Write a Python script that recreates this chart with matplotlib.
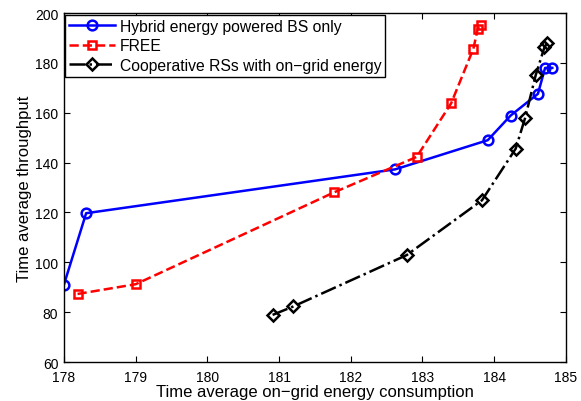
import matplotlib
matplotlib.use("Agg")
import matplotlib.pyplot as plt

plt.rcParams['font.family'] = ['Liberation Sans', 'DejaVu Sans']

# Hybrid energy powered BS only
hyb_x = [178.0, 178.31, 182.62, 183.91, 184.23, 184.61, 184.71, 184.81]
hyb_y = [91.0, 119.7, 137.3, 149.0, 158.9, 167.6, 178.0, 178.0]

# FREE
free_x = [178.19, 179.0, 181.77, 182.92, 183.40, 183.71, 183.77, 183.82]
free_y = [87.3, 91.2, 128.1, 142.3, 163.8, 185.7, 193.6, 195.3]

# Cooperative RSs with on-grid energy
coop_x = [180.91, 181.20, 182.78, 183.83, 184.30, 184.43, 184.58, 184.70, 184.74]
coop_y = [78.9, 82.3, 102.9, 124.9, 145.6, 157.8, 175.2, 186.2, 188.0]

fig = plt.figure(figsize=(5.81, 4.02), dpi=100)
ax = fig.add_axes([0.110, 0.097, 0.864, 0.868])

ax.plot(hyb_x, hyb_y, '-o', color='blue', lw=1.8, ms=7, mfc='none', mew=1.8,
        label='Hybrid energy powered BS only')
ax.plot(free_x, free_y, '--s', color='red', lw=1.8, ms=6, mfc='none', mew=1.8,
        label='FREE')
ax.plot(coop_x, coop_y, '-.D', color='black', lw=1.8, ms=6, mfc='none', mew=1.8,
        label='Cooperative RSs with on\u2212grid energy')

ax.set_xlim(178, 185)
ax.set_ylim(60, 200)
ax.set_xticks(range(178, 186))
ax.set_yticks(range(60, 201, 20))
ax.tick_params(direction='in', labelsize=10, length=4, top=True, right=True)
ax.tick_params(axis='x', pad=5.5)
ax.tick_params(axis='y', pad=4)
for s in ax.spines.values():
    s.set_linewidth(1.0)
ax.set_xlabel('Time average on\u2212grid energy consumption', fontsize=12, labelpad=0.5)
ax.set_ylabel('Time average throughput', fontsize=12, labelpad=2)

leg = ax.legend(loc='upper left', fontsize=11.3, fancybox=False, framealpha=1,
                edgecolor='black', borderaxespad=0.1, handlelength=2.9,
                handletextpad=0.3, borderpad=0.25, labelspacing=0.3)
leg.get_frame().set_linewidth(1.0)

fig.savefig('out.png', dpi=100)
